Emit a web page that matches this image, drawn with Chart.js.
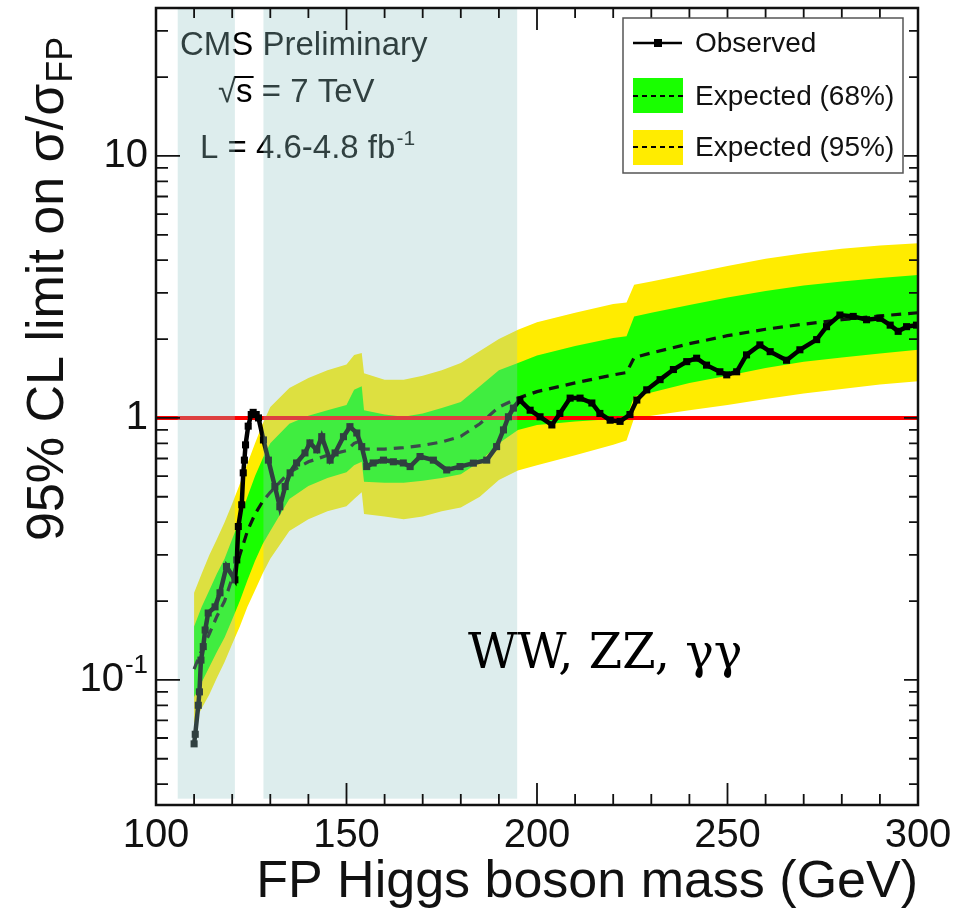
<!DOCTYPE html>
<html>
<head>
<meta charset="utf-8">
<script src="https://cdn.jsdelivr.net/npm/chart.js@4/dist/chart.umd.min.js"></script>
<style>
  html, body { margin: 0; padding: 0; background: #fff; }
  #wrap { width: 953px; height: 916px; }
</style>
</head>
<body>
<div id="wrap"><canvas id="limitChart" width="953" height="916"></canvas></div>
<script>
// --- data ---
const obsMass = [110.0, 110.3, 111.1, 111.4, 111.8, 112.4, 112.9, 113.7, 115.5, 116.8,
    118.5, 120.7, 121.2, 121.6, 122.5, 122.9, 123.2, 123.5, 124.2, 125.0,
    125.5, 126.3, 126.9, 128.2, 129.5, 131.2, 132.5, 133.9, 135.2, 136.9,
    139.1, 140.4, 142.2, 143.5, 145.7, 147.0, 149.2, 150.9, 152.7, 154.0,
    155.3, 157.0, 159.7, 162.3, 164.9, 166.7, 169.3, 172.8, 176.3, 179.8,
    183.3, 186.8, 189.4, 191.2, 192.5, 193.8, 195.5, 198.2, 200.8, 203.9,
    206.0, 208.7, 211.3, 214.4, 216.5, 219.2, 221.8, 224.4, 226.2, 228.8,
    232.3, 235.8, 239.3, 241.9, 244.5, 248.0, 249.8, 252.4, 255.0, 258.5,
    261.2, 265.5, 269.0, 273.4, 276.0, 279.5, 283.0, 286.5, 290.0, 292.7,
    294.8, 297.0, 299.6];
const obsLimit = [0.057, 0.062, 0.080, 0.090, 0.119, 0.134, 0.155, 0.180, 0.19, 0.215,
    0.271, 0.241, 0.287, 0.385, 0.466, 0.617, 0.69, 0.789, 0.93, 1.03,
    1.05, 1.03, 1.0, 0.824, 0.69, 0.547, 0.458, 0.547, 0.617, 0.673,
    0.735, 0.803, 0.755, 0.848, 0.69, 0.735, 0.848, 0.926, 0.876, 0.777,
    0.652, 0.673, 0.69, 0.68, 0.673, 0.652, 0.712, 0.69, 0.633, 0.652,
    0.672, 0.69, 0.777, 0.90, 1.01, 1.09, 1.17, 1.07, 1.01, 0.94,
    1.04, 1.19, 1.19, 1.14, 1.04, 0.98, 0.97, 1.03, 1.17, 1.28,
    1.40, 1.53, 1.64, 1.69, 1.59, 1.50, 1.46, 1.50, 1.74, 1.90,
    1.79, 1.66, 1.82, 1.99, 2.23, 2.47, 2.44, 2.37, 2.40, 2.26,
    2.14, 2.23, 2.26];

const expMass = [110, 112, 114, 116, 118, 120, 122, 124, 126, 128,
    130, 135, 140, 145, 150, 152, 154, 154.6, 160, 165,
    170, 175, 180, 185, 190, 195, 200, 210, 220, 223.5,
    225.5, 230, 240, 250, 260, 270, 280, 290, 300];
const exp95Lo = [0.068, 0.078, 0.088, 0.102, 0.117, 0.137, 0.16, 0.19, 0.22, 0.255,
    0.29, 0.37, 0.41, 0.44, 0.46, 0.49, 0.52, 0.43, 0.42, 0.41,
    0.42, 0.44, 0.455, 0.50, 0.58, 0.63, 0.66, 0.72, 0.79, 0.82,
    1.0, 1.02, 1.07, 1.12, 1.18, 1.24, 1.29, 1.34, 1.38];
const exp68Lo = [0.086, 0.098, 0.112, 0.128, 0.145, 0.17, 0.2, 0.24, 0.285, 0.33,
    0.37, 0.49, 0.55, 0.59, 0.62, 0.66, 0.68, 0.57, 0.565, 0.565,
    0.575, 0.59, 0.61, 0.68, 0.80, 0.90, 0.94, 0.97, 0.99, 1.0,
    1.21, 1.25, 1.36, 1.45, 1.55, 1.64, 1.70, 1.76, 1.82];
const expMedian = [0.11, 0.13, 0.15, 0.175, 0.20, 0.245, 0.30, 0.37, 0.43, 0.48,
    0.52, 0.62, 0.68, 0.72, 0.75, 0.80, 0.82, 0.76, 0.76, 0.77,
    0.785, 0.81, 0.85, 0.95, 1.10, 1.19, 1.26, 1.36, 1.46, 1.49,
    1.70, 1.77, 1.92, 2.06, 2.18, 2.28, 2.37, 2.45, 2.52];
const exp68Hi = [0.16, 0.19, 0.22, 0.255, 0.29, 0.345, 0.41, 0.50, 0.60, 0.70,
    0.80, 0.95, 1.02, 1.07, 1.12, 1.28, 1.32, 1.07, 1.03, 1.01,
    1.04, 1.09, 1.15, 1.32, 1.52, 1.62, 1.73, 1.88, 2.02, 2.05,
    2.44, 2.52, 2.70, 2.88, 3.05, 3.2, 3.32, 3.42, 3.51];
const exp95Hi = [0.215, 0.255, 0.30, 0.345, 0.40, 0.47, 0.56, 0.67, 0.80, 0.95,
    1.10, 1.30, 1.42, 1.52, 1.60, 1.74, 1.77, 1.48, 1.40, 1.40,
    1.45, 1.52, 1.62, 1.80, 2.0, 2.17, 2.32, 2.52, 2.72, 2.76,
    3.22, 3.32, 3.55, 3.80, 4.05, 4.25, 4.42, 4.55, 4.64];

// shaded mass windows
const bandStart = [105.7, 128.2];
const bandEnd = [120.7, 194.8];
const bandFloor = 0.0352;

const refLevel = 1;
const xTickLabels = [100, 150, 200, 250, 300];
const yTickLabels = [0.1, 1, 10];
const xMin = 100, xMax = 300, yMin = 0.0333, yMax = 36.7;
const legendLabels = ['Observed', 'Expected (68%)', 'Expected (95%)'];

const SANS = '"Liberation Sans", Arial, Helvetica, sans-serif';
const SERIF = '"DejaVu Serif", "Liberation Serif", serif';
const GREEN = 'rgb(25,255,0)';
const YELLOW = 'rgb(255,236,0)';

const toPts = (xs, ys) => xs.map((m, i) => ({ x: m, y: ys[i] }));

const decor = {
    id: 'decor',
    afterDatasetsDraw(chart) {
        const { ctx, scales: { x, y } } = chart;
        ctx.save();
        // CMS header (sits under the shaded windows)
        ctx.fillStyle = '#000';
        ctx.textAlign = 'left';
        ctx.textBaseline = 'alphabetic';
        ctx.font = '33px ' + SANS;
        ctx.fillText('CMS Preliminary', 180, 55);
        const rw = ctx.measureText('\u221A').width;
        ctx.fillText('\u221A', 218, 102);
        ctx.fillText('s = 7 TeV', 218 + rw, 102);
        const sw = ctx.measureText('s').width;
        ctx.fillRect(218 + rw - 2, 76, sw + 3, 2);
        ctx.fillText('L = 4.6-4.8 fb', 200, 158);
        const lw = ctx.measureText('L = 4.6-4.8 fb').width;
        ctx.font = '21px ' + SANS;
        ctx.fillText('-1', 200 + lw + 1, 145);

        // shaded windows
        ctx.fillStyle = 'rgba(150,200,200,0.32)';
        const top = y.getPixelForValue(yMax), bot = y.getPixelForValue(bandFloor);
        bandStart.forEach((m0, i) => {
            const x0 = x.getPixelForValue(m0), x1 = x.getPixelForValue(bandEnd[i]);
            ctx.fillRect(x0, top, x1 - x0, bot - top);
        });
        ctx.restore();
    },
    afterDraw(chart) {
        const { ctx, chartArea: a, scales: { x, y } } = chart;
        ctx.save();

        // frame + inward ticks
        ctx.strokeStyle = '#111';
        ctx.lineWidth = 2.5;
        ctx.strokeRect(a.left, a.top, a.right - a.left, a.bottom - a.top);
        ctx.lineWidth = 1.8;
        ctx.beginPath();
        for (let m = xMin; m <= xMax; m += 10) {
            const px = x.getPixelForValue(m);
            const major = m % 50 === 0;
            ctx.moveTo(px, a.bottom); ctx.lineTo(px, a.bottom - (major ? 22 : 11));
            ctx.moveTo(px, a.top); ctx.lineTo(px, a.top + (major ? 22 : 10));
        }
        for (let e = -2; e <= 1; e++) {
            for (let k = 1; k <= 9; k++) {
                const v = k * Math.pow(10, e);
                if (v < yMin || v > yMax) continue;
                const py = y.getPixelForValue(v);
                const major = k === 1;
                ctx.moveTo(a.left, py); ctx.lineTo(a.left + (major ? 24 : 12), py);
                ctx.moveTo(a.right, py); ctx.lineTo(a.right - (major ? 14 : 9), py);
            }
        }
        ctx.stroke();

        // y tick labels
        ctx.fillStyle = '#111';
        ctx.textBaseline = 'middle';
        ctx.textAlign = 'right';
        yTickLabels.forEach(v => {
            const py = y.getPixelForValue(v);
            if (v < 1) {
                ctx.font = '26px ' + SANS;
                const ew = ctx.measureText('-1').width;
                ctx.fillText('-1', 148, py - 14);
                ctx.font = '40px ' + SANS;
                ctx.fillText('10', 148 - ew - 1, py);
            } else {
                ctx.font = '40px ' + SANS;
                ctx.fillText(String(v), 148, py);
            }
        });

        // y title with subscript
        ctx.save();
        ctx.translate(63, 541);
        ctx.rotate(-Math.PI / 2);
        ctx.textAlign = 'left';
        ctx.textBaseline = 'alphabetic';
        ctx.font = '52px ' + SANS;
        const main = '95% CL limit on \u03C3/\u03C3';
        ctx.fillText(main, 0, 0);
        const mw = ctx.measureText(main).width;
        ctx.font = '36px ' + SANS;
        ctx.fillText('FP', mw + 1, 9);
        ctx.restore();

        // channel label
        ctx.textAlign = 'left';
        ctx.textBaseline = 'alphabetic';
        ctx.fillStyle = '#000';
        ctx.font = '48px ' + SERIF;
        ctx.fillText('WW, ZZ, \u03B3\u03B3', 468, 668);

        // legend
        const lx = 623, ly = 18, lwid = 280, lh = 155;
        ctx.fillStyle = '#fff';
        ctx.fillRect(lx, ly, lwid, lh);
        ctx.strokeStyle = '#555';
        ctx.lineWidth = 1.5;
        ctx.strokeRect(lx, ly, lwid, lh);
        ctx.strokeStyle = '#000';
        ctx.fillStyle = '#000';
        ctx.lineWidth = 2.5;
        ctx.beginPath(); ctx.moveTo(633, 43); ctx.lineTo(682, 43); ctx.stroke();
        ctx.fillRect(654, 39, 8, 8);
        [[GREEN, 78, 96], [YELLOW, 130, 147]].forEach(([col, by, my]) => {
            ctx.fillStyle = col;
            ctx.fillRect(633, by, 50, 35);
            ctx.setLineDash([5, 4]);
            ctx.lineWidth = 2;
            ctx.beginPath(); ctx.moveTo(633, my); ctx.lineTo(683, my); ctx.stroke();
            ctx.setLineDash([]);
        });
        ctx.fillStyle = '#111';
        ctx.font = '28px ' + SANS;
        ctx.textBaseline = 'middle';
        ctx.fillText(legendLabels[0], 695, 44);
        ctx.fillText(legendLabels[1], 695, 97);
        ctx.fillText(legendLabels[2], 695, 148);
        ctx.restore();
    }
};

const bandLine = { borderColor: 'rgba(0,0,0,0)', borderWidth: 0, pointRadius: 0, tension: 0 };

new Chart(document.getElementById('limitChart'), {
    type: 'line',
    data: {
        datasets: [
            { label: legendLabels[0], data: toPts(obsMass, obsLimit), order: 0,
              borderColor: '#000', borderWidth: 4.5, pointStyle: 'rect', pointRadius: 5,
              pointBackgroundColor: '#000', pointBorderWidth: 0, fill: false, tension: 0 },
            { label: 'ref', data: [{ x: xMin, y: refLevel }, { x: xMax, y: refLevel }], order: 1,
              borderColor: '#ff0000', borderWidth: 4, pointRadius: 0, fill: false },
            { label: 'median', data: toPts(expMass, expMedian), order: 2,
              borderColor: '#111', borderWidth: 3.2, borderDash: [10, 7], pointRadius: 0, fill: false, tension: 0 },
            { label: '68 hi', data: toPts(expMass, exp68Hi), order: 3, fill: '+1', backgroundColor: GREEN, ...bandLine },
            { label: '68 lo', data: toPts(expMass, exp68Lo), order: 4, fill: false, ...bandLine },
            { label: '95 hi', data: toPts(expMass, exp95Hi), order: 5, fill: '+1', backgroundColor: YELLOW, ...bandLine },
            { label: '95 lo', data: toPts(expMass, exp95Lo), order: 6, fill: false, ...bandLine }
        ]
    },
    options: {
        responsive: false,
        animation: false,
        devicePixelRatio: 1,
        layout: { padding: { top: 8, right: 35, bottom: 0, left: 0 } },
        plugins: { legend: { display: false }, tooltip: { enabled: false } },
        scales: {
            x: {
                type: 'linear', min: xMin, max: xMax, position: 'bottom',
                afterBuildTicks: s => { s.ticks = xTickLabels.map(v => ({ value: v })); },
                ticks: { font: { family: SANS, size: 40 }, color: '#111', padding: 7, maxRotation: 0, autoSkip: false },
                grid: { display: false, drawTicks: false },
                border: { display: false },
                title: { display: true, text: 'FP Higgs boson mass (GeV)', align: 'end',
                         font: { family: SANS, size: 52 }, color: '#111', padding: { top: 0, bottom: 2 } },
                afterFit: s => { s.height = 111; s.paddingLeft = 0; s.paddingRight = 0; }
            },
            y: {
                type: 'logarithmic', min: yMin, max: yMax, position: 'left',
                ticks: { display: false },
                grid: { display: false, drawTicks: false },
                border: { display: false },
                afterFit: s => { s.width = 156; }
            }
        }
    },
    plugins: [decor]
});
</script>
</body>
</html>
